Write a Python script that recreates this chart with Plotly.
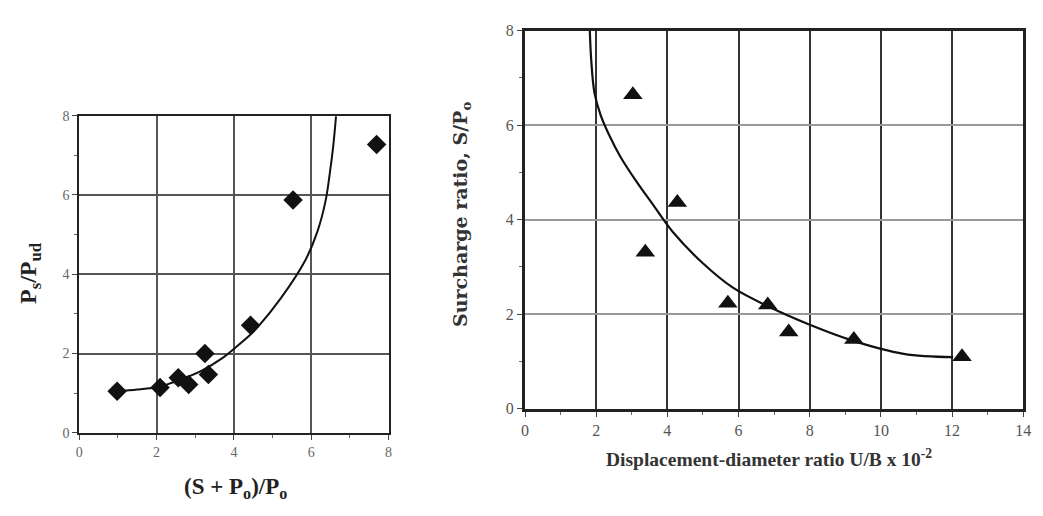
import plotly.graph_objects as go

# Left chart: measured points
left_x = [0.98, 2.09, 2.56, 2.83, 3.25, 3.34, 4.43, 5.53, 7.69]
left_y = [1.05, 1.14, 1.39, 1.22, 2.00, 1.47, 2.71, 5.87, 7.27]
# Left chart: fitted curve
left_curve_x = [1.00, 1.50, 2.09, 2.56, 3.17, 3.68, 4.05, 4.43, 4.61, 5.21, 5.85, 6.16, 6.37, 6.48, 6.57, 6.64]
left_curve_y = [1.05, 1.09, 1.17, 1.32, 1.57, 1.87, 2.16, 2.48, 2.66, 3.39, 4.36, 5.08, 5.85, 6.55, 7.25, 7.98]

# Right chart: measured points
right_x = [3.03, 4.28, 3.38, 5.70, 6.82, 7.41, 9.24, 12.28]
right_y = [6.64, 4.36, 3.31, 2.23, 2.19, 1.62, 1.46, 1.10]
# Right chart: fitted curve
right_curve_x = [1.82, 1.86, 1.95, 2.12, 2.35, 2.68, 3.09, 3.60, 4.16, 4.99, 5.82, 6.84, 7.95, 9.16, 10.64, 12.03]
right_curve_y = [8.00, 7.38, 6.69, 6.22, 5.81, 5.33, 4.85, 4.31, 3.73, 3.08, 2.57, 2.16, 1.79, 1.45, 1.16, 1.09]

left_ticks = [0, 2, 4, 6, 8]
right_xticks = [0, 2, 4, 6, 8, 10, 12, 14]
right_yticks = [0, 2, 4, 6, 8]

# page body has an 8px margin: place everything 8px up/left of the target pixel
OFF = 8
W, H = 1043, 516
def px(v): return (v - OFF) / W
def py(v): return 1 - (v - OFF) / H

SERIF = "Liberation Serif, Times New Roman, serif"

fig = go.Figure()

fig.add_trace(go.Scatter(x=left_curve_x, y=left_curve_y, mode="lines",
                         line=dict(color="#111", width=2, shape="spline", smoothing=1.0),
                         xaxis="x", yaxis="y", showlegend=False, hoverinfo="skip"))
fig.add_trace(go.Scatter(x=left_x, y=left_y, mode="markers",
                         marker=dict(symbol="diamond", size=15, color="#111"),
                         xaxis="x", yaxis="y", showlegend=False))

fig.add_trace(go.Scatter(x=right_curve_x, y=right_curve_y, mode="lines",
                         line=dict(color="#111", width=2.2, shape="spline", smoothing=1.0),
                         xaxis="x2", yaxis="y2", showlegend=False, hoverinfo="skip"))
fig.add_trace(go.Scatter(x=right_x, y=right_y, mode="markers",
                         marker=dict(symbol="triangle-up", size=17, color="#111"),
                         xaxis="x2", yaxis="y2", showlegend=False))

def axis_common(fsize, fcolor):
    return dict(showline=True, linecolor="#222", mirror=True, ticks="outside",
                ticklen=5, tickcolor="#444", zeroline=False, ticklabeloverflow="allow",
                tickfont=dict(family=SERIF, size=fsize, color=fcolor),
                minor=dict(dtick=1, ticks="outside", ticklen=3, tickcolor="#666", showgrid=False))

fig.update_layout(
    width=W, height=H,
    margin=dict(l=0, r=0, t=0, b=0),
    paper_bgcolor="white", plot_bgcolor="white",
    xaxis=dict(domain=[px(76), px(389)], range=[0, 8], tickvals=left_ticks,
               showgrid=True, gridcolor="#555", gridwidth=1.5, linewidth=2,
               anchor="y", **axis_common(14, "#666")),
    yaxis=dict(domain=[py(439), py(111)], range=[0, 8], tickvals=left_ticks,
               showgrid=True, gridcolor="#555", gridwidth=1.5, linewidth=2,
               anchor="x", **axis_common(14, "#666")),
    xaxis2=dict(domain=[px(527), px(1031)], range=[0, 14], tickvals=right_xticks,
                showgrid=True, gridcolor="#333", gridwidth=1.8, linewidth=3,
                anchor="y2", **axis_common(16, "#555")),
    yaxis2=dict(domain=[py(414), py(23)], range=[0, 8], tickvals=right_yticks,
                showgrid=True, gridcolor="#999", gridwidth=1.5, linewidth=3,
                anchor="x2", **axis_common(16, "#555")),
)

def title(text, x, y, size, color, angle=0, family=SERIF):
    fig.add_annotation(text=text, x=px(x), y=py(y), xref="paper", yref="paper",
                       xanchor="center", yanchor="middle", showarrow=False,
                       textangle=angle, font=dict(family=family, size=size, color=color))

title("<b>(S + P<sub>o</sub>)/P<sub>o</sub></b>", 234, 496, 23, "#222")
title("<b>P<sub>s</sub>/P<sub>ud</sub></b>", 26, 274, 24, "#222", angle=-90)
title("<b>Displacement-diameter ratio U/B x 10<sup>-2</sup></b>", 774, 465, 19.5, "#333")
title("<b>Surcharge ratio, S/P<sub>o</sub></b>", 462, 213, 19, "#333", angle=-90,
      family="DejaVu Serif, Liberation Serif, serif")

fig.write_html("out.html")
